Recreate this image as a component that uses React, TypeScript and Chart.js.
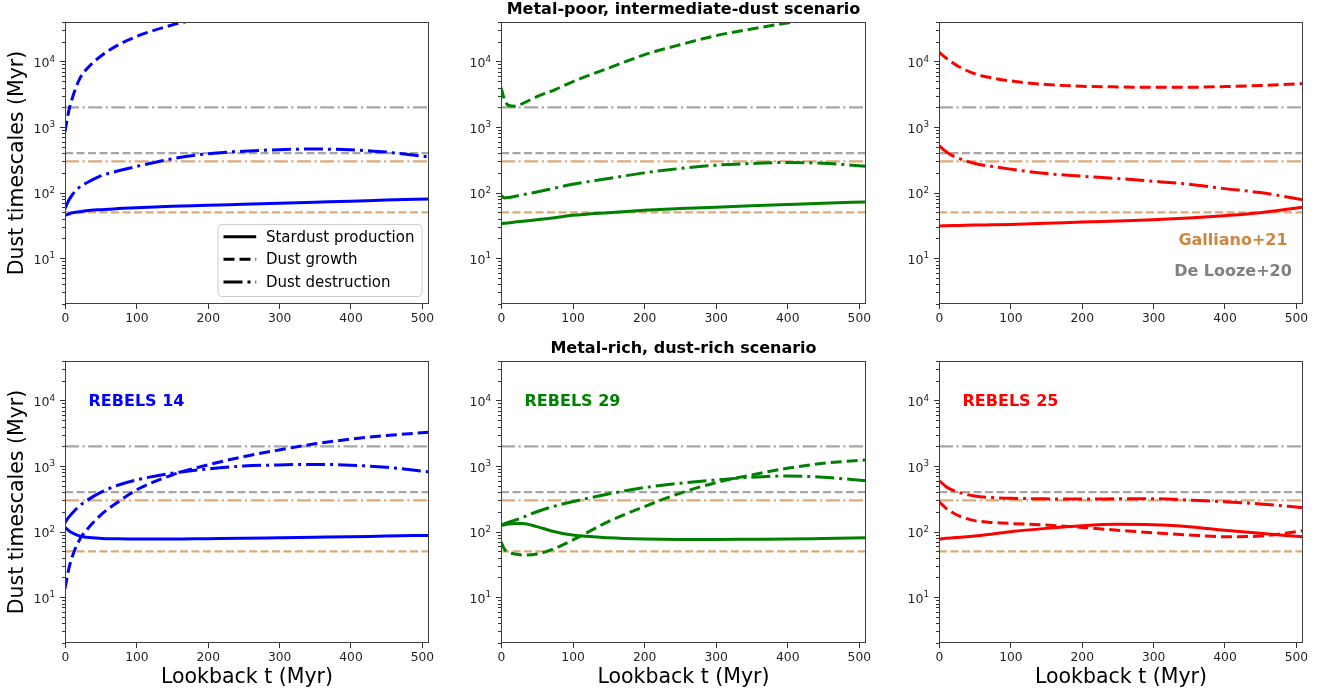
import React, { useEffect, useRef } from "react";
import { Chart, registerables } from "chart.js";
Chart.register(...registerables);

const FONT = "'DejaVu Sans', sans-serif";

// Lookback time grid (Myr)
const T = [0, 5, 10, 20, 30, 50, 75, 100, 150, 200, 250, 300, 350, 400, 450, 510];
const X_TICKS = [0, 100, 200, 300, 400, 500];
const X_MAX = 510;
const Y_MIN = 2;
const Y_MAX = 40000;
const Y_MAJOR = [10, 100, 1000, 10000];
const Y_MAJOR_EXP = ["1", "2", "3", "4"];

// Literature reference timescales (Myr)
const DELOOZE_GROWTH = 400;
const DELOOZE_DESTR = 2000;
const GALLIANO_GROWTH = 50;
const GALLIANO_DESTR = 300;

// Metal-poor, intermediate-dust scenario
const poor14Star = [45, 47, 49, 51, 53, 55, 57, 59, 62, 64, 66.5, 69, 71.5, 74, 77, 80];
const poor14Growth = [850, 1700, 2700, 5300, 7600, 12000, 18000, 24000, 36000, 48000, null, null, null, null, null, null];
const poor14Destr = [57, 75, 92, 120, 140, 180, 215, 250, 328, 392, 428, 452, 462, 450, 415, 350];

const poor29Star = [33.6, 34, 34.5, 35.5, 36.5, 38.5, 41.5, 45, 49.5, 53.7, 57, 60, 63, 66, 69, 72];
const poor29Growth = [4000, 2600, 2150, 2080, 2280, 2900, 3700, 4900, 7900, 12600, 18000, 24700, 31300, 38600, 46000, null];
const poor29Destr = [91, 83, 84, 88, 93, 102, 117, 134, 164, 200, 233, 262, 278, 288, 280, 253];

const poor25Star = [31, 31.1, 31.2, 31.4, 31.6, 32, 32.3, 32.7, 34, 35.6, 37, 38.6, 41, 44.5, 49.4, 60];
const poor25Growth = [13900, 12500, 11300, 9400, 8100, 6500, 5600, 5060, 4450, 4190, 4090, 4050, 4050, 4140, 4290, 4600];
const poor25Destr = [520, 465, 420, 360, 325, 278, 250, 228, 195, 178, 164, 149, 134, 115, 100, 78];

// Metal-rich, dust-rich scenario
const rich14Star = [116, 104, 96, 86, 82, 78.8, 77.5, 77, 77, 78, 79, 80.5, 82, 83.5, 85.5, 87.5];
const rich14Growth = [13.5, 26, 41, 74, 105, 179, 286, 431, 731, 1040, 1390, 1760, 2180, 2570, 2920, 3280];
const rich14Destr = [137, 165, 190, 245, 295, 397, 514, 614, 776, 904, 1000, 1040, 1060, 1030, 958, 813];

const rich29Star = [123, 127, 130, 133, 133, 119, 99.5, 88.5, 80.5, 77, 76, 76, 76.5, 77, 78.5, 80.5];
const rich29Growth = [70, 53.5, 48.5, 45.5, 43.8, 45.4, 55.4, 74, 142, 240, 384, 558, 731, 925, 1100, 1240];
const rich29Destr = [126, 132, 138, 150, 164, 201, 245, 286, 375, 468, 546, 614, 674, 706, 674, 598];

const rich25Star = [77, 78, 79, 80.5, 82, 85.5, 92, 99.5, 112, 123, 129, 127, 119, 105, 94, 83.5];
const rich25Growth = [286, 255, 226, 192, 170, 147, 138, 133, 126, 116, 105, 96, 88.6, 83.5, 85.5, 103];
const rich25Destr = [598, 540, 485, 425, 390, 349, 330, 322, 316, 314, 316, 318, 303, 286, 264, 232];

const BLUE = "#0000ff";
const GREEN = "#008000";
const RED = "#ff0000";
const GRAY_LINE = "rgba(128,128,128,0.7)";
const PERU_LINE = "rgba(205,133,63,0.7)";

const DASH = [11, 5];
const DASHDOT = [19, 5, 3, 5];
const REF_DASH = [8, 3.5];
const REF_DASHDOT = [14, 3.5, 2.2, 3.5];

const Y_TICK_VALUES: number[] = [];
for (let k = 0; k <= 4; k++) {
  for (let m = 1; m <= 9; m++) {
    const v = m * Math.pow(10, k);
    if (v >= Y_MIN && v <= Y_MAX) Y_TICK_VALUES.push(v);
  }
}

const PLOT_LEFTS = [65, 501, 939];
const PLOT_WIDTHS = [364, 365, 364];
const PLOT_TOPS = [22, 361];
const PLOT_H = 282;
const AX_W = 60;
const AX_H = 28;
const PAD = 20;

type PanelCfg = {
  row: number;
  col: number;
  color: string;
  star: (number | null)[];
  growth: (number | null)[];
  destr: (number | null)[];
  legend?: boolean;
  label?: string;
  refLabels?: boolean;
};

const PANELS: PanelCfg[] = [
  { row: 0, col: 0, color: BLUE, star: poor14Star, growth: poor14Growth, destr: poor14Destr, legend: true },
  { row: 0, col: 1, color: GREEN, star: poor29Star, growth: poor29Growth, destr: poor29Destr },
  { row: 0, col: 2, color: RED, star: poor25Star, growth: poor25Growth, destr: poor25Destr, refLabels: true },
  { row: 1, col: 0, color: BLUE, star: rich14Star, growth: rich14Growth, destr: rich14Destr, label: "REBELS 14" },
  { row: 1, col: 1, color: GREEN, star: rich29Star, growth: rich29Growth, destr: rich29Destr, label: "REBELS 29" },
  { row: 1, col: 2, color: RED, star: rich25Star, growth: rich25Growth, destr: rich25Destr, label: "REBELS 25" },
];

function toPoints(vals: (number | null)[]) {
  const pts: { x: number; y: number }[] = [];
  T.forEach((t, i) => {
    const v = vals[i];
    if (v !== null && v !== undefined) pts.push({ x: t, y: v });
  });
  return pts;
}

function Panel({ cfg }: { cfg: PanelCfg }) {
  const ref = useRef<HTMLCanvasElement>(null);
  const w = PLOT_WIDTHS[cfg.col];
  const cw = AX_W + w + PAD;
  const chh = PAD + PLOT_H + AX_H;
  useEffect(() => {
    const canvas = ref.current!;
    const mainLine = (vals: (number | null)[], dash: number[]) => ({
      data: toPoints(vals),
      borderColor: cfg.color,
      backgroundColor: cfg.color,
      borderWidth: 3,
      borderDash: dash,
      pointRadius: 0,
      cubicInterpolationMode: "monotone",
      clip: 0,
      fill: false,
    });
    const refLine = (v: number, color: string, dash: number[]) => ({
      data: [
        { x: 0, y: v },
        { x: X_MAX, y: v },
      ],
      borderColor: color,
      backgroundColor: color,
      borderWidth: 2.2,
      borderDash: dash,
      pointRadius: 0,
      clip: 0,
      fill: false,
    });
    const decor = {
      id: "decor",
      afterDatasetsDraw(chart: any) {
        const { ctx, chartArea: ca, scales } = chart;
        const ys = scales.y;
        const xs = scales.x;
        ctx.save();
        ctx.strokeStyle = "#333";
        ctx.lineWidth = 1;
        ctx.setLineDash([]);
        ctx.beginPath();
        for (const v of Y_TICK_VALUES) {
          const py = Math.round(ys.getPixelForValue(v)) + 0.5;
          const len = Y_MAJOR.includes(v) ? 5 : 3;
          ctx.moveTo(ca.left - len, py);
          ctx.lineTo(ca.left, py);
        }
        for (const v of X_TICKS) {
          const px = Math.round(xs.getPixelForValue(v)) + 0.5;
          ctx.moveTo(px, ca.bottom);
          ctx.lineTo(px, ca.bottom + 5);
        }
        ctx.stroke();
        ctx.strokeStyle = "#404040";
        ctx.strokeRect(ca.left + 0.5, ca.top + 0.5, ca.right - ca.left - 1, ca.bottom - ca.top - 1);

        // tick labels
        ctx.fillStyle = "#222";
        ctx.textBaseline = "alphabetic";
        ctx.textAlign = "left";
        Y_MAJOR.forEach((v, i) => {
          const py = ys.getPixelForValue(v);
          const x0 = ca.left - 31.4;
          ctx.font = `12.5px ${FONT}`;
          ctx.fillText("10", x0, py + 5.6);
          const wd = ctx.measureText("10").width;
          ctx.font = `8.75px ${FONT}`;
          ctx.fillText(Y_MAJOR_EXP[i], x0 + wd, py + 0.2);
        });
        ctx.font = `12.3px ${FONT}`;
        ctx.textAlign = "center";
        X_TICKS.forEach((v) => {
          const px = xs.getPixelForValue(v);
          ctx.fillText(String(v), px + 0.5, ca.bottom + 17.6);
        });

        if (cfg.legend) {
          const bx = ca.left + 152.5;
          const by = ca.top + 202;
          const bw = 204;
          const bh = 72;
          ctx.beginPath();
          ctx.roundRect(bx + 0.5, by + 0.5, bw, bh, 4);
          ctx.fillStyle = "rgba(255,255,255,0.8)";
          ctx.fill();
          ctx.strokeStyle = "#cccccc";
          ctx.lineWidth = 1;
          ctx.stroke();
          const rows: [string, number[]][] = [
            ["Stardust production", []],
            ["Dust growth", DASH],
            ["Dust destruction", DASHDOT],
          ];
          ctx.font = `15px ${FONT}`;
          ctx.textBaseline = "middle";
          ctx.textAlign = "left";
          rows.forEach(([txt, dash], i) => {
            const y = by + 12.7 + i * 22.65;
            ctx.beginPath();
            ctx.setLineDash(dash);
            ctx.strokeStyle = "#000";
            ctx.lineWidth = 3;
            ctx.moveTo(bx + 6, y);
            ctx.lineTo(bx + 38.7, y);
            ctx.stroke();
            ctx.setLineDash([]);
            ctx.fillStyle = "#000";
            ctx.fillText(txt, bx + 48.4, y + 1);
          });
        }
        if (cfg.label) {
          ctx.font = `bold 16px ${FONT}`;
          ctx.textBaseline = "middle";
          ctx.textAlign = "left";
          ctx.fillStyle = cfg.color;
          ctx.fillText(cfg.label, ca.left + 23.5, ys.getPixelForValue(10000) + 1);
        }
        if (cfg.refLabels) {
          ctx.font = `bold 16px ${FONT}`;
          ctx.textBaseline = "middle";
          ctx.textAlign = "center";
          ctx.fillStyle = "#cd853f";
          ctx.fillText("Galliano+21", ca.left + 294, ca.top + 218.5);
          ctx.fillStyle = "#808080";
          ctx.fillText("De Looze+20", ca.left + 294, ca.top + 250);
        }
        ctx.restore();
      },
    };
    const chart = new Chart(canvas, {
      type: "line",
      data: {
        datasets: [
          mainLine(cfg.star, []),
          mainLine(cfg.growth, DASH),
          mainLine(cfg.destr, DASHDOT),
          refLine(DELOOZE_DESTR, GRAY_LINE, REF_DASHDOT),
          refLine(DELOOZE_GROWTH, GRAY_LINE, REF_DASH),
          refLine(GALLIANO_DESTR, PERU_LINE, REF_DASHDOT),
          refLine(GALLIANO_GROWTH, PERU_LINE, REF_DASH),
        ] as any,
      },
      options: {
        responsive: false,
        animation: false,
        devicePixelRatio: 1,
        events: [],
        layout: { padding: { top: PAD, right: PAD, left: 0, bottom: 0 } },
        plugins: { legend: { display: false }, tooltip: { enabled: false }, title: { display: false } },
        scales: {
          x: {
            type: "linear",
            min: 0,
            max: X_MAX,
            grid: { display: false },
            border: { display: false },
            afterBuildTicks: (s: any) => {
              s.ticks = X_TICKS.map((v) => ({ value: v }));
            },
            afterFit: (s: any) => {
              s.height = AX_H;
            },
            ticks: { display: false },
          },
          y: {
            type: "logarithmic",
            min: Y_MIN,
            max: Y_MAX,
            grid: { display: false },
            border: { display: false },
            afterBuildTicks: (s: any) => {
              s.ticks = Y_TICK_VALUES.map((v) => ({ value: v, major: Y_MAJOR.includes(v) }));
            },
            afterFit: (s: any) => {
              s.width = AX_W;
            },
            ticks: { display: false },
          },
        },
      } as any,
      plugins: [decor],
    });
    return () => chart.destroy();
  }, []);
  return (
    <canvas
      ref={ref}
      width={cw}
      height={chh}
      style={{
        position: "absolute",
        left: PLOT_LEFTS[cfg.col] - AX_W,
        top: PLOT_TOPS[cfg.row] - PAD,
        width: cw,
        height: chh,
      }}
    />
  );
}

const TITLES = ["Metal-poor, intermediate-dust scenario", "Metal-rich, dust-rich scenario"];
const Y_LABEL = "Dust timescales (Myr)";
const X_LABEL = "Lookback t (Myr)";

export default function App() {
  const textBase: React.CSSProperties = {
    position: "absolute",
    fontFamily: FONT,
    lineHeight: 1,
    whiteSpace: "nowrap",
    color: "#000",
  };
  return (
    <div style={{ position: "fixed", left: 0, top: 0, width: 1325, height: 694, background: "#fff", overflow: "hidden" }}>
      {PANELS.map((p, i) => (
        <Panel key={i} cfg={p} />
      ))}
      {TITLES.map((t, i) => (
        <div
          key={"t" + i}
          style={{ ...textBase, fontWeight: "bold", fontSize: 16, left: 683.5, top: i === 0 ? 1 : 340, transform: "translateX(-50%)" }}
        >
          {t}
        </div>
      ))}
      {[163, 502].map((cy, i) => (
        <div
          key={"y" + i}
          style={{ ...textBase, fontSize: 20.5, left: 16.3, top: cy, transform: "translate(-50%,-50%) rotate(-90deg)" }}
        >
          {Y_LABEL}
        </div>
      ))}
      {[0, 1, 2].map((c) => (
        <div
          key={"x" + c}
          style={{ ...textBase, fontSize: 20.5, left: PLOT_LEFTS[c] + PLOT_WIDTHS[c] / 2, top: 666, transform: "translateX(-50%)" }}
        >
          {X_LABEL}
        </div>
      ))}
    </div>
  );
}
